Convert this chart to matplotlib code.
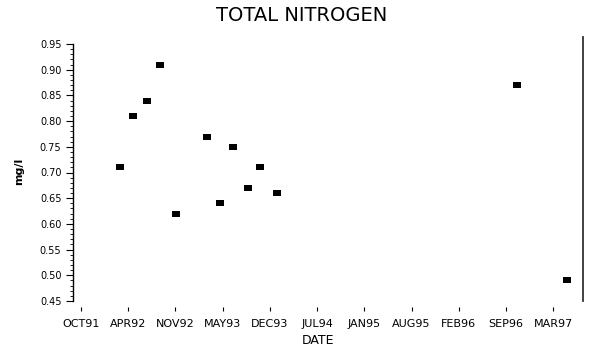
import numpy as np
import matplotlib
matplotlib.use('Agg')
import matplotlib.pyplot as plt
import matplotlib.dates as mdates
from matplotlib.ticker import MultipleLocator

sample_dates = ['1992-03-23', '1992-05-16', '1992-07-16', '1992-09-08', '1992-11-14',
                '1993-03-26', '1993-05-18', '1993-07-11', '1993-09-13', '1993-11-04',
                '1994-01-15', '1996-10-19', '1997-05-18']
nitrogen = [0.71, 0.81, 0.84, 0.91, 0.62,
            0.77, 0.64, 0.75, 0.67, 0.71,
            0.66, 0.87, 0.49]

# Achsenbeschriftung
tick_dates = ['1991-10-10', '1992-04-26', '1992-11-11', '1993-05-29', '1993-12-14',
              '1994-07-01', '1995-01-16', '1995-08-03', '1996-02-18', '1996-09-04',
              '1997-03-22']
tick_labels = ['OCT91', 'APR92', 'NOV92', 'MAY93', 'DEC93', 'JUL94',
               'JAN95', 'AUG95', 'FEB96', 'SEP96', 'MAR97']
y_ticks = [0.45, 0.50, 0.55, 0.60, 0.65, 0.70, 0.75, 0.80, 0.85, 0.90, 0.95]

x = mdates.datestr2num(sample_dates)
xt = mdates.datestr2num(tick_dates)

fig = plt.figure(figsize=(6.05, 3.56), dpi=100)
ax = fig.add_axes([72.5 / 605, 1 - 301 / 356, (583 - 72.5) / 605, (301 - 44) / 356])

# flaches Rechteck als Marker
rect = [(-1, -0.7), (1, -0.7), (1, 0.7), (-1, 0.7), (-1, -0.7)]
ax.plot(x, nitrogen, linestyle='none', marker=rect, markersize=5.4,
        color='black', markeredgewidth=0)

ax.set_xlim(mdates.datestr2num('1991-09-05'), mdates.datestr2num('1997-07-25'))
ax.set_ylim(0.45, 0.95)

ax.set_xticks(xt)
ax.set_xticklabels(tick_labels)
ax.set_yticks(y_ticks)
ax.set_yticklabels([f'{v:.2f}' for v in y_ticks])
ax.yaxis.set_minor_locator(MultipleLocator(0.01))

for s in ['top', 'right']:
    ax.spines[s].set_visible(False)
ax.spines['bottom'].set_position(('outward', 4))
ax.spines['bottom'].set_color('none')
ax.spines['left'].set_linewidth(1.0)

ax.tick_params(axis='x', length=3, width=0.8, pad=6, colors='black')
ax.tick_params(axis='y', which='major', length=5, width=0.8, pad=3, labelsize=7)
ax.tick_params(axis='y', which='minor', length=2.5, width=0.6)
for lab in ax.get_xticklabels():
    lab.set_family(['Liberation Sans Narrow', 'DejaVu Sans'])
    lab.set_fontsize(8)

# senkrechte Linie rechts
ax.axvline(ax.get_xlim()[1], ymin=0, ymax=1.027, color='#333333', lw=1.3, clip_on=False)

fig.text(302 / 605, 1 - 15.5 / 356, 'TOTAL NITROGEN', ha='center', va='center', fontsize=14)
fig.text(318 / 605, 1 - 340 / 356, 'DATE', ha='center', va='center', fontsize=9)
fig.text(19 / 605, 1 - 171 / 356, 'mg/l', ha='center', va='center', fontsize=8,
         rotation=90, fontweight='bold')

fig.savefig('out.png', dpi=100)
